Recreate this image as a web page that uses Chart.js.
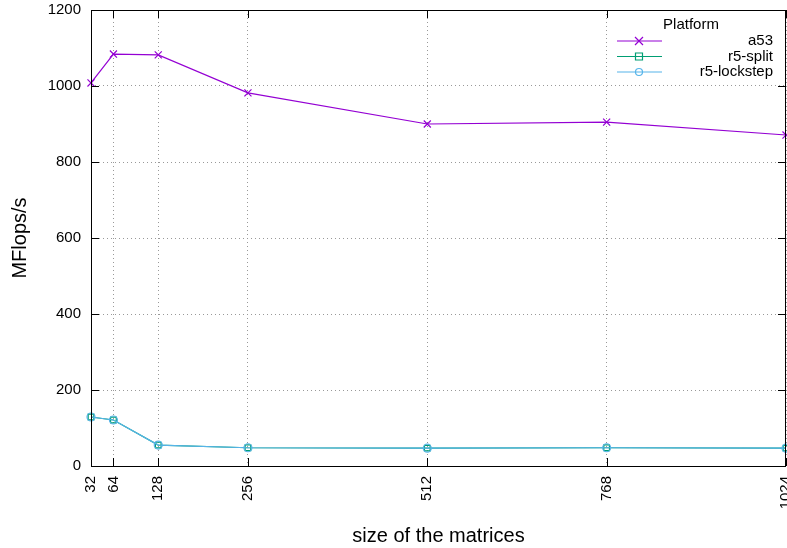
<!DOCTYPE html>
<html>
<head>
<meta charset="utf-8">
<script src="https://cdn.jsdelivr.net/npm/chart.js@4"></script>
<style>
  html, body { margin: 0; padding: 0; background: #fff; }
  #wrap { width: 787px; height: 548px; }
</style>
</head>
<body>
<div id="wrap"><canvas id="chartMflops"></canvas></div>
<script>
// adatok
const sizes = [32, 64, 128, 256, 512, 768, 1024];
const a53 = [1008, 1084, 1082, 982, 900, 905, 871];
const r5Split = [129, 121, 55, 48, 47, 48, 47];
const r5Lockstep = [129, 121, 55, 48, 47, 48, 47];
const yTicks = [0, 200, 400, 600, 800, 1000, 1200];

const labels = ['a53', 'r5-split', 'r5-lockstep'];
const colors = ['#9400D3', '#009E73', '#56B4E9'];
const markers = ['crossRot', 'rect', 'circle'];
const FONT = '"Liberation Sans", Arial, sans-serif';

function pts(vals) {
    return sizes.map((s, i) => ({ x: s, y: vals[i] }));
}

// belső tick-ek + keret + jelmagyarázat
const gnuplotLook = {
    id: 'gnuplotLook',
    afterDraw(chart) {
        const ctx = chart.ctx;
        const a = chart.chartArea;
        const xs = chart.scales.x, ys = chart.scales.y;
        ctx.save();
        ctx.strokeStyle = '#000';
        ctx.lineWidth = 1;
        ctx.beginPath();
        sizes.forEach(s => {
            const px = Math.round(xs.getPixelForValue(s)) + 0.5;
            ctx.moveTo(px, a.bottom); ctx.lineTo(px, a.bottom - 8);
            ctx.moveTo(px, a.top); ctx.lineTo(px, a.top + 8);
        });
        yTicks.forEach(v => {
            const py = Math.round(ys.getPixelForValue(v)) + 0.5;
            ctx.moveTo(a.left, py); ctx.lineTo(a.left + 8, py);
            ctx.moveTo(a.right, py); ctx.lineTo(a.right - 8, py);
        });
        ctx.stroke();
        ctx.strokeRect(Math.round(a.left) + 0.5, Math.round(a.top) + 0.5,
            Math.round(a.right - a.left) - 1, Math.round(a.bottom - a.top));

        // legend
        ctx.fillStyle = '#000';
        ctx.font = '15px ' + FONT;
        ctx.textAlign = 'center';
        ctx.textBaseline = 'middle';
        ctx.fillText('Platform', 691, 25);
        labels.forEach((lab, i) => {
            const y = 41 + i * 15.5;
            ctx.strokeStyle = colors[i];
            ctx.lineWidth = 1.2;
            ctx.beginPath();
            ctx.moveTo(617, y); ctx.lineTo(662, y);
            ctx.stroke();
            ctx.beginPath();
            if (i === 0) {
                ctx.moveTo(635, y - 4); ctx.lineTo(643, y + 4);
                ctx.moveTo(643, y - 4); ctx.lineTo(635, y + 4);
            } else if (i === 1) {
                ctx.rect(635.5, y - 3.5, 7, 7);
            } else {
                ctx.arc(639, y, 3.5, 0, Math.PI * 2);
            }
            ctx.stroke();
            ctx.fillStyle = '#000';
            ctx.textAlign = 'right';
            ctx.fillText(lab, 773, y);
        });
        ctx.restore();
    }
};

const ctx = document.getElementById('chartMflops').getContext('2d');
new Chart(ctx, {
    type: 'line',
    data: {
        datasets: labels.map((lab, i) => ({
            label: lab,
            data: pts([a53, r5Split, r5Lockstep][i]),
            borderColor: colors[i],
            backgroundColor: 'rgba(0,0,0,0)',
            borderWidth: 1.2,
            pointStyle: markers[i],
            pointRadius: i === 0 ? 5 : 4,
            pointBorderWidth: 1.2,
            tension: 0,
            clip: false,
            order: 2 - i
        }))
    },
    options: {
        responsive: true,
        maintainAspectRatio: false,
        animation: false,
        layout: { autoPadding: false, padding: { top: 10, right: 1, left: 0, bottom: 0 } },
        plugins: { legend: { display: false }, tooltip: { enabled: false } },
        scales: {
            x: {
                type: 'linear',
                min: 32, max: 1024,
                afterBuildTicks(scale) { scale.ticks = sizes.map(v => ({ value: v })); },
                afterFit(scale) { scale.height = 82; scale.paddingLeft = 0; scale.paddingRight = 0; },
                grid: { color: '#999', lineWidth: 1, drawTicks: false },
                border: { display: false, dash: [1, 3] },
                ticks: {
                    minRotation: 90, maxRotation: 90, padding: 10,
                    color: '#000',
                    font: { size: 15, family: FONT },
                    callback: v => String(v)
                },
                title: {
                    display: true, text: 'size of the matrices', color: '#000',
                    font: { size: 20, family: FONT },
                    padding: { top: 4, bottom: 0 }
                }
            },
            y: {
                min: 0, max: 1200,
                afterBuildTicks(scale) { scale.ticks = yTicks.map(v => ({ value: v })); },
                afterFit(scale) { scale.width = 91; scale.paddingTop = 0; scale.paddingBottom = 0; },
                grid: { color: '#999', lineWidth: 1, drawTicks: false },
                border: { display: false, dash: [1, 3] },
                ticks: {
                    padding: 10, color: '#000',
                    font: { size: 15, family: FONT },
                    callback: v => String(v)
                },
                title: {
                    display: true, text: 'MFlops/s', color: '#000',
                    font: { size: 20, family: FONT },
                    padding: { top: 8, bottom: 4 }
                }
            }
        }
    },
    plugins: [gnuplotLook]
});
</script>
</body>
</html>
